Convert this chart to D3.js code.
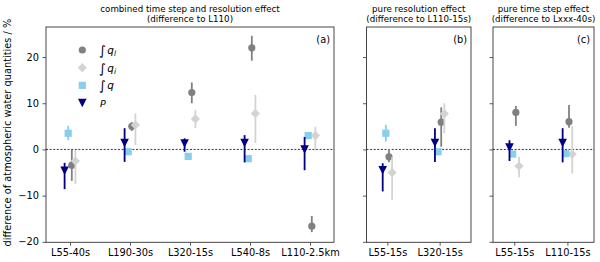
<!DOCTYPE html>
<html><head><meta charset="utf-8">
<script src="https://cdn.jsdelivr.net/npm/d3@7"></script>
<style>body{margin:0;background:#fff}svg{display:block}text{font-family:"DejaVu Sans",sans-serif;fill:#000}</style>
</head><body><svg id="c" width="600" height="262"></svg>
<script>
// ---- data ----
const catsA = ["L55-40s","L190-30s","L320-15s","L540-8s","L110-2.5km"];
const catsB = ["L55-15s","L320-15s"];
const catsC = ["L55-15s","L110-15s"];
const yTicks = [-20,-10,0,10,20];

// panel (a)
const qlA = [-3.4, 5.0, 12.3, 22.0, -16.6];
const qlA_lo = [-6.8, 4.0, 10.0, 19.2, -17.9];
const qlA_hi = [-0.1, 5.9, 14.5, 24.6, -14.4];
const qiA = [-2.5, 5.3, 6.6, 7.8, 3.0];
const qiA_lo = [-7.5, 1.0, 4.6, 1.4, -0.3];
const qiA_hi = [-0.1, 7.8, 8.5, 11.8, 4.9];
const qA = [3.5, -0.5, -1.5, -2.0, 3.0];
const qA_lo = [2.0, -0.5, -1.5, -2.0, 2.7];
const qA_hi = [5.1, -0.5, -1.5, -2.0, 3.4];
const pA = [-4.6, 1.4, 1.3, 1.4, 0.0];
const pA_lo = [-8.6, -2.7, -0.5, -2.8, -4.5];
const pA_hi = [-2.9, 4.6, 2.4, 3.1, 2.7];

// panel (b)
const qlB = [-1.6, 5.9], qlB_lo = [-2.8, 0.6], qlB_hi = [0.1, 9.1];
const qiB = [-5.0, 7.7], qiB_lo = [-10.9, 3.5], qiB_hi = [-1.6, 10.0];
const qB = [3.5, -0.5], qB_lo = [1.7, -0.5], qB_hi = [5.3, -0.5];
const pB = [-4.5, 1.4], pB_lo = [-9.1, -2.7], pB_hi = [-3.0, 4.6];

// panel (c)
const qlC = [8.0, 6.0], qlC_lo = [5.1, 4.7], qlC_hi = [9.4, 9.6];
const qiC = [-3.6, -1.0], qiC_lo = [-6.0, -5.2], qiC_hi = [-1.6, 5.1];
const qC = [-1.0, -0.9], qC_lo = [-1.0, -0.9], qC_hi = [-1.0, -0.9];
const pC = [0.4, 1.4], pC_lo = [-2.5, -2.8], pC_hi = [2.0, 4.6];

const titles = [
  ["combined time step and resolution effect","(difference to L110)"],
  ["pure resolution effect","(difference to L110-15s)"],
  ["pure time step effect","(difference to Lxxx-40s)"]
];
const panelLabels = ["(a)","(b)","(c)"];
const yLabel = "difference of atmospheric water quantities / %";

// ---- styles ----
const series = [
  {key:"ql", color:"#808080", shape:"circle", dodge:0.03},
  {key:"qi", color:"#d3d3d3", shape:"diamond", dodge:0.09},
  {key:"q",  color:"#87ceeb", shape:"square", dodge:-0.03},
  {key:"p",  color:"#000080", shape:"tri", dodge:-0.09}
];

const panels = [
  {cats:catsA, x0:46, x1:334, dom:[-0.4,4.4], data:{ql:[qlA,qlA_lo,qlA_hi], qi:[qiA,qiA_lo,qiA_hi], q:[qA,qA_lo,qA_hi], p:[pA,pA_lo,pA_hi]}},
  {cats:catsB, x0:366.5, x1:471, dom:[-0.4,1.6], data:{ql:[qlB,qlB_lo,qlB_hi], qi:[qiB,qiB_lo,qiB_hi], q:[qB,qB_lo,qB_hi], p:[pB,pB_lo,pB_hi]}},
  {cats:catsC, x0:493, x1:594, dom:[-0.4,1.5], data:{ql:[qlC,qlC_lo,qlC_hi], qi:[qiC,qiC_lo,qiC_hi], q:[qC,qC_lo,qC_hi], p:[pC,pC_lo,pC_hi]}}
];

const plotTop = 27, plotBottom = 242.3;
const y = d3.scaleLinear().domain([-20.1, 26.5]).range([plotBottom, plotTop]);
const svg = d3.select("#c");

function marker(g, shape, color, cx, cy){
  if(shape==="circle") g.append("circle").attr("cx",cx).attr("cy",cy).attr("r",3.6).attr("fill",color);
  else if(shape==="diamond") g.append("path").attr("d",`M${cx},${cy-4.6}L${cx+4.6},${cy}L${cx},${cy+4.6}L${cx-4.6},${cy}Z`).attr("fill",color);
  else if(shape==="square") g.append("rect").attr("x",cx-3.6).attr("y",cy-3.6).attr("width",7.2).attr("height",7.2).attr("fill",color);
  else g.append("path").attr("d",`M${cx-4.3},${cy-4.3}L${cx+4.3},${cy-4.3}L${cx},${cy+4.3}Z`).attr("fill",color);
}

panels.forEach((P,pi)=>{
  const x = d3.scaleLinear().domain(P.dom).range([P.x0,P.x1]);
  const g = svg.append("g");
  g.append("line").attr("x1",P.x0).attr("x2",P.x1).attr("y1",y(0)).attr("y2",y(0))
    .attr("stroke","#000").attr("stroke-width",0.8).attr("stroke-dasharray","2,1.6");
  series.forEach(s=>{
    const [v,lo,hi] = P.data[s.key];
    v.forEach((val,i)=>{
      const cx = x(i + s.dodge);
      if(hi[i]!==lo[i]) g.append("line").attr("x1",cx).attr("x2",cx).attr("y1",y(lo[i])).attr("y2",y(hi[i]))
        .attr("stroke",s.color).attr("stroke-width",1.8);
      marker(g, s.shape, s.color, cx, y(val));
    });
  });
  const xa = d3.axisBottom(x).tickValues(d3.range(P.cats.length)).tickFormat(i=>P.cats[i]).tickSize(3.5).tickPadding(3.5);
  const ax = g.append("g").attr("transform",`translate(0,${plotBottom})`).call(xa);
  const ya = d3.axisLeft(y).tickValues(yTicks).tickSize(3.5).tickPadding(3.5).tickFormat(pi===0? (d=>d<0?"\u2212"+Math.abs(d):d) : "");
  const ay = g.append("g").attr("transform",`translate(${P.x0},0)`).call(ya);
  [ax,ay].forEach(a=>{a.select(".domain").remove(); a.selectAll("line").attr("stroke","#333").attr("stroke-width",0.8);
    a.selectAll("text").attr("font-size",9.8).attr("fill","#000").attr("font-family","DejaVu Sans");});
  g.append("rect").attr("x",P.x0).attr("y",plotTop).attr("width",P.x1-P.x0).attr("height",plotBottom-plotTop)
    .attr("fill","none").attr("stroke","#333").attr("stroke-width",0.9);
  const cxT = (P.x0+P.x1)/2;
  titles[pi].forEach((t,li)=>g.append("text").attr("x",cxT).attr("y",11.5+li*10).attr("text-anchor","middle").attr("font-size",8.7).text(t));
  g.append("text").attr("x",P.x1-4).attr("y",plotTop+16).attr("text-anchor","end").attr("font-size",9.8).text(panelLabels[pi]);
});

svg.append("text").attr("transform",`translate(11,${(plotTop+plotBottom)/2 - 2}) rotate(-90)`).attr("text-anchor","middle").attr("font-size",9.8).text(yLabel);

const leg = svg.append("g");
const legRows = [50, 67.7, 85.4, 103];
const legLabels = [["q","l"],["q","i"],["q",""],null];
series.forEach((s,i)=>{
  marker(leg, s.shape, s.color, 82.3, legRows[i]);
  const t = leg.append("text").attr("x",99).attr("y",legRows[i]+4).attr("font-size",10.5);
  if(legLabels[i]){
    t.append("tspan").attr("font-size",13).attr("dy",1).text("\u222B");
    t.append("tspan").attr("font-style","italic").attr("dx",1.5).attr("dy",-1).text(legLabels[i][0]);
    if(legLabels[i][1]) t.append("tspan").attr("font-style","italic").attr("font-size",7.5).attr("dy",2).text(legLabels[i][1]);
  } else {
    t.attr("font-family","DejaVu Serif").attr("font-style","italic").attr("font-size",9.5).attr("x",100).text("P");
  }
});
</script></body></html>
